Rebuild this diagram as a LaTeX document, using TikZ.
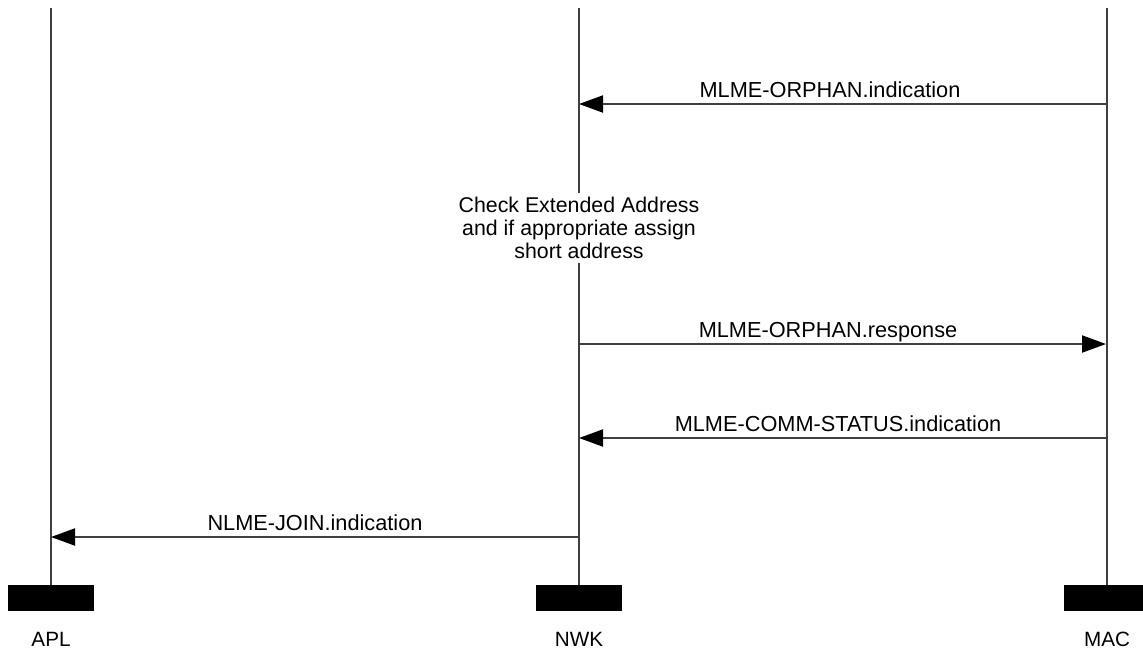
\documentclass[tikz,border=0pt]{standalone}
\usepackage{fontspec}
\setmainfont{Liberation Sans}
\usetikzlibrary{arrows.meta}
\definecolor{lgray}{HTML}{404040}
\begin{document}
\begin{tikzpicture}[x=0.75pt,y=-0.75pt,
  life/.style={draw=lgray, line width=1.5pt},
  msg/.style={draw=lgray, line width=1.5pt, -{Triangle[length=18pt,width=12.75pt,color=black]}},
  bar/.style={fill=black, draw=none, inner sep=0pt, minimum width=64.5pt, minimum height=19.5pt},
  lbl/.style={font=\fontsize{16.3pt}{19pt}\selectfont, anchor=base, inner sep=0pt},
  actor/.style={font=\fontsize{15.5pt}{18pt}\selectfont, anchor=base, inner sep=0pt},
  note/.style={font=\fontsize{16pt}{17.5pt}\selectfont, align=center, fill=white, inner xsep=2pt, inner ysep=3pt}]
\useasboundingbox (0,0) rectangle (1143,651);
% bars
\node[bar] (aplbar) at (51,598) {};
\node[bar] (nwkbar) at (579,598) {};
\node[bar] (macbar) at (1107,598) {};
% lifeline tops
\coordinate (apltop) at (51,8);
\coordinate (nwktop) at (579,8);
\coordinate (mactop) at (1107,8);
\draw[life] (apltop) -- (aplbar.north);
\draw[life] (nwktop) -- (nwkbar.north);
\draw[life] (mactop) -- (macbar.north);
% actor labels
\node[actor] (apl) at (51,646) {APL};
\node[actor] (nwk) at (579,646) {NWK};
\node[actor] (mac) at (1107,646) {MAC};
% message points
\coordinate (m1mac) at (1107,104);
\coordinate (m1nwk) at (579,104);
\coordinate (m2nwk) at (579,344);
\coordinate (m2mac) at (1106,344);
\coordinate (m3mac) at (1107,438);
\coordinate (m3nwk) at (579,438);
\coordinate (m4nwk) at (579,537);
\coordinate (m4apl) at (51,537);
\draw[msg] (m1mac) -- (m1nwk);
\draw[msg] (m2nwk) -- (m2mac);
\draw[msg] (m3mac) -- (m3nwk);
\draw[msg] (m4nwk) -- (m4apl);
\node[lbl] (l1) at (830,97) {MLME-ORPHAN.indication};
\node[lbl] (l2) at (828,337) {MLME-ORPHAN.response};
\node[lbl] (l3) at (838,431) {MLME-COMM-STATUS.indication};
\node[lbl] (l4) at (315,530) {NLME-JOIN.indication};
% note
\node[note] (chk) at (579,228) {Check Extended Address\\and if appropriate assign\\short address};
\end{tikzpicture}
\end{document}
